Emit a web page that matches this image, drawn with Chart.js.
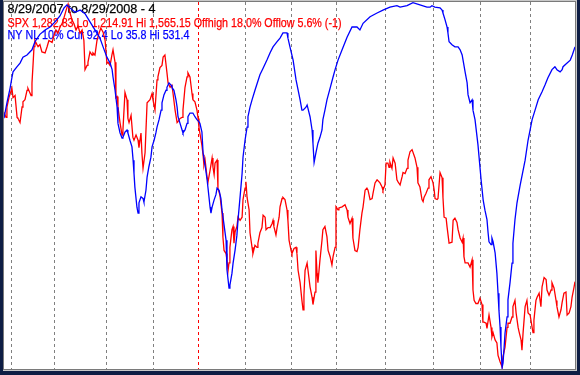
<!DOCTYPE html>
<html>
<head>
<meta charset="utf-8">
<script src="https://cdn.jsdelivr.net/npm/chart.js@4.4.0/dist/chart.umd.min.js"></script>
<style>
  html, body { margin: 0; padding: 0; background: #0e1d44; }
  #wrap { width: 580px; height: 375px; }
</style>
</head>
<body>
<div id="wrap"><canvas id="chart" width="580" height="375"></canvas></div>
<script>
// header text, one line each
var titleLines = [
  "8/29/2007 to 8/29/2008 - 4",
  "SPX 1,282.83 Lo 1,214.91 Hi 1,565.15 Offhigh 18.0% Offlow 5.6% (-1)",
  "NY NL 10% Cur 92.4 Lo 35.8 Hi 531.4"
];
var titleColors = ["#000000", "#ff0000", "#0000ff"];

// trading day index (0 = 8/29/2007) of first session of each month
var monthStarts = [3, 22, 45, 66, 86, 107, 127, 147, 169, 190, 211, 233];
var yearStart = 86;
var lastDay = 253;

// SPX close (day index, value)
var spxDay = [
  0, 0.9, 1.3, 2.2, 3.5, 4.0, 4.9, 5.8, 6.2, 7.1,
  8.0, 8.4, 9.3, 10.2, 10.6, 12.0, 12.4, 12.9, 13.3, 13.7,
  14.6, 15.1, 15.9, 16.8, 18.2, 19.1, 19.9, 21.3, 22.2, 23.0,
  23.9, 24.8, 25.7, 26.6, 27.5, 28.4, 29.2, 30.1, 31.0, 31.9,
  32.8, 33.7, 34.6, 35.4, 35.9, 36.8, 37.2, 38.1, 39.0, 39.4,
  40.3, 41.2, 42.1, 42.9, 43.9, 44.8, 45.6, 46.1, 47.0, 47.8,
  48.3, 49.2, 49.6, 50.1, 50.5, 51.4, 52.3, 52.7, 53.6, 54.5,
  54.9, 55.4, 56.3, 57.1, 57.6, 58.5, 59.4, 59.8, 60.7, 61.1,
  61.6, 62.5, 63.4, 63.8, 64.7, 65.6, 66.0, 66.9, 67.8, 68.2,
  69.1, 70.0, 70.5, 71.3, 72.2, 72.7, 73.6, 74.4, 74.9, 75.8,
  76.7, 77.1, 78.0, 78.9, 79.3, 80.2, 81.1, 81.5, 82.4, 83.3,
  83.7, 84.6, 85.5, 86.0, 86.4, 87.7, 88.2, 88.6, 89.1, 90.0,
  90.4, 91.3, 92.2, 92.6, 93.1, 93.5, 94.4, 94.8, 95.7, 96.6,
  97.0, 97.5, 98.4, 98.8, 99.3, 99.7, 100.1, 101.0, 101.5, 101.9,
  102.4, 103.2, 103.7, 104.6, 105.5, 105.9, 106.8, 107.2, 107.7, 108.6,
  109.0, 109.9, 110.3, 111.2, 112.1, 112.5, 113.4, 114.3, 114.8, 115.7,
  116.1, 117.0, 117.9, 118.8, 119.2, 119.6, 120.5, 121.0, 121.9, 122.3,
  123.2, 123.6, 124.5, 125.4, 125.8, 126.3, 127.2, 127.6, 128.5, 129.4,
  129.8, 130.3, 131.2, 132.0, 132.5, 132.9, 133.4, 134.3, 134.7, 135.6,
  136.5, 136.9, 137.8, 138.2, 138.7, 139.1, 140.0, 140.9, 141.3, 142.2,
  143.1, 143.6, 144.5, 145.3, 145.8, 146.7, 147.1, 148.0, 148.4, 149.8,
  151.1, 152.0, 152.4, 153.3, 154.2, 154.6, 155.5, 156.4, 156.9, 157.7,
  158.6, 159.1, 160.0, 160.8, 161.3, 162.2, 163.1, 163.5, 164.4, 165.3,
  165.7, 166.6, 167.5, 167.9, 168.8, 169.3, 170.1, 170.6, 171.0, 171.9,
  172.4, 173.3, 174.1, 174.6, 175.5, 176.4, 176.8, 177.7, 178.6, 179.0,
  179.9, 180.8, 181.2, 182.1, 183.0, 183.4, 184.3, 185.2, 185.7, 186.1,
  187.0, 187.9, 188.3, 189.2, 190.1, 190.6, 191.0, 191.9, 192.3, 193.2,
  194.1, 194.5, 195.0, 195.9, 196.3, 197.2, 197.6, 198.5, 199.0, 199.8,
  200.7, 201.2, 202.1, 203.0, 203.4, 203.8, 204.3, 205.6, 206.5, 207.4,
  207.8, 208.3, 209.1, 210.0, 210.9, 211.8, 212.2, 212.7, 213.6, 214.0,
  214.9, 215.8, 216.2, 216.7, 217.6, 218.4, 218.9, 219.8, 220.7, 221.1,
  222.0, 222.9, 223.3, 224.2, 225.1, 225.5, 226.4, 226.9, 227.8, 228.2,
  229.1, 229.5, 230.0, 230.9, 231.7, 232.2, 233.1, 234.0, 234.4, 234.8,
  235.7, 236.2, 237.1, 237.9, 238.4, 239.3, 240.2, 240.6, 241.5, 242.4,
  242.8, 243.7, 244.6, 245.0, 245.9, 246.8, 247.3, 248.1, 249.0, 249.5,
  250.4, 251.2, 251.7, 252.6, 253.0
];
var spxClose = [
  1460, 1455, 1465, 1474, 1483, 1474, 1476, 1455, 1454, 1450,
  1465, 1470, 1472, 1481, 1483, 1476, 1488, 1507, 1523, 1529,
  1525, 1523, 1525, 1518, 1517, 1523, 1529, 1527, 1534, 1539,
  1536, 1542, 1545, 1551, 1558, 1564, 1556, 1549, 1545, 1539,
  1543, 1536, 1539, 1529, 1501, 1505, 1508, 1518, 1515, 1517,
  1515, 1529, 1536, 1541, 1537, 1529, 1507, 1508, 1505, 1515,
  1520, 1508, 1474, 1475, 1465, 1450, 1438, 1443, 1479, 1472,
  1454, 1450, 1457, 1436, 1433, 1438, 1433, 1426, 1440, 1421,
  1406, 1421, 1469, 1469, 1472, 1478, 1472, 1462, 1491, 1494,
  1503, 1505, 1513, 1515, 1498, 1488, 1484, 1486, 1478, 1462,
  1450, 1451, 1454, 1455, 1462, 1484, 1494, 1498, 1494, 1478,
  1472, 1470, 1462, 1454, 1445, 1428, 1419, 1409, 1414, 1397,
  1393, 1404, 1416, 1407, 1400, 1411, 1414, 1387, 1380, 1363,
  1340, 1327, 1324, 1318, 1308, 1315, 1330, 1347, 1350, 1334,
  1345, 1350, 1359, 1356, 1359, 1376, 1387, 1393, 1378, 1366,
  1344, 1330, 1324, 1332, 1330, 1334, 1344, 1349, 1361, 1359,
  1347, 1349, 1349, 1353, 1356, 1350, 1342, 1349, 1359, 1369,
  1377, 1378, 1376, 1366, 1356, 1337, 1327, 1324, 1329, 1330,
  1324, 1308, 1296, 1279, 1270, 1284, 1308, 1315, 1308, 1292,
  1282, 1275, 1287, 1327, 1305, 1296, 1318, 1337, 1347, 1350,
  1340, 1327, 1321, 1313, 1321, 1330, 1369, 1366, 1368, 1369,
  1371, 1366, 1359, 1353, 1358, 1339, 1327, 1326, 1330, 1347,
  1363, 1369, 1385, 1387, 1385, 1376, 1377, 1382, 1392, 1395,
  1395, 1392, 1388, 1385, 1390, 1411, 1411, 1407, 1412, 1406,
  1416, 1411, 1395, 1393, 1390, 1398, 1402, 1401, 1406, 1414,
  1422, 1424, 1424, 1416, 1407, 1392, 1388, 1376, 1374, 1378,
  1382, 1387, 1395, 1398, 1392, 1385, 1377, 1376, 1377, 1402,
  1397, 1378, 1359, 1358, 1350, 1334, 1334, 1335, 1356, 1358,
  1354, 1347, 1339, 1335, 1339, 1321, 1315, 1315, 1311, 1318,
  1289, 1279, 1276, 1276, 1281, 1275, 1258, 1258, 1257, 1252,
  1265, 1253, 1244, 1248, 1241, 1238, 1226, 1220, 1215, 1225,
  1234, 1253, 1257, 1257, 1263, 1273, 1279, 1267, 1253, 1249,
  1241, 1231, 1248, 1273, 1279, 1267, 1265, 1253, 1248, 1260,
  1279, 1282, 1286, 1273, 1292, 1301, 1299, 1289, 1284, 1289,
  1296, 1291, 1279, 1273, 1263, 1270, 1277, 1286, 1287, 1265,
  1267, 1273, 1282, 1292, 1297
];

// NYSE new lows, 10 day average (day index, value)
var nlDay = [
  0, 1.3, 2.7, 3.5, 4.0, 5.8, 7.1, 8.4, 10.2, 12.4,
  13.7, 15.9, 18.2, 20.4, 22.6, 24.8, 26.6, 27.9, 29.2, 31.5,
  33.7, 35.9, 38.1, 40.3, 42.5, 43.9, 45.6, 47.0, 47.9, 48.3,
  49.2, 50.1, 50.5, 51.4, 52.3, 52.7, 53.6, 54.5, 54.9, 55.8,
  56.7, 57.2, 57.6, 58.0, 58.9, 59.4, 59.8, 60.7, 61.6, 62.0,
  62.9, 63.4, 64.2, 65.1, 65.6, 66.5, 67.3, 67.8, 68.7, 69.6,
  70.0, 70.9, 71.8, 72.2, 73.1, 74.0, 74.4, 75.3, 76.2, 76.7,
  77.1, 78.0, 78.9, 79.3, 80.2, 81.1, 81.5, 82.4, 83.7, 84.6,
  85.5, 86.4, 86.8, 87.7, 88.2, 89.1, 90.0, 90.4, 91.3, 91.7,
  92.2, 93.1, 93.9, 94.4, 95.3, 96.1, 96.6, 97.5, 98.4, 98.8,
  99.7, 100.1, 101.0, 101.5, 102.4, 103.2, 103.7, 104.6, 105.5, 105.9,
  106.8, 107.7, 108.1, 109.0, 109.9, 111.2, 113.4, 114.8, 116.5, 117.9,
  119.2, 121.0, 122.3, 123.6, 125.4, 125.8, 126.7, 128.1, 129.4, 131.2,
  132.0, 132.5, 133.8, 134.3, 135.6, 136.5, 136.9, 137.4, 138.2, 139.1,
  140.0, 140.9, 141.3, 142.2, 143.1, 144.5, 145.8, 146.7, 148.0, 149.8,
  152.0, 154.2, 156.4, 157.7, 159.1, 162.2, 165.3, 167.9, 171.0, 174.1,
  175.5, 178.6, 181.2, 184.3, 187.4, 188.8, 189.6, 190.9, 193.2, 194.1,
  194.5, 195.4, 196.3, 196.7, 197.2, 198.5, 199.8, 201.2, 202.1, 203.0,
  203.4, 204.3, 205.2, 205.6, 206.5, 207.4, 207.8, 208.7, 210.0, 211.4,
  212.3, 213.1, 214.0, 214.5, 214.9, 215.8, 216.2, 216.7, 217.6, 218.4,
  218.9, 219.3, 219.8, 220.2, 220.7, 221.1, 221.6, 222.0, 222.9, 223.3,
  224.2, 225.1, 225.5, 226.4, 227.3, 228.7, 230.9, 232.2, 234.0, 235.3,
  236.7, 238.4, 239.7, 241.0, 242.8, 244.1, 245.0, 246.4, 247.3, 247.7,
  249.5, 250.9, 251.8, 253.0
];
var nlValue = [
  192, 171, 151, 137, 129, 122, 117, 109, 106, 99,
  88, 78, 72, 68, 61, 53, 42, 38, 42, 48,
  45, 50, 61, 72, 83, 95, 109, 117, 126, 136,
  154, 177, 199, 212, 219, 218, 211, 208, 212, 222,
  231, 249, 267, 286, 313, 321, 307, 299, 301, 306,
  290, 272, 258, 245, 231, 222, 212, 204, 194, 181,
  171, 160, 154, 150, 144, 147, 150, 154, 167, 177,
  190, 199, 208, 212, 208, 199, 190, 185, 185, 190,
  194, 197, 199, 211, 239, 256, 276, 287, 313, 321,
  313, 303, 296, 287, 290, 301, 317, 337, 358, 398,
  423, 419, 403, 389, 371, 351, 330, 299, 267, 245,
  222, 204, 190, 177, 167, 154, 133, 124, 113, 103,
  95, 88, 83, 76, 76, 83, 95, 113, 140, 167,
  181, 181, 177, 174, 190, 208, 226, 252, 239, 226,
  218, 208, 194, 181, 167, 151, 136, 126, 113, 99,
  82, 68, 68, 72, 63, 54, 49, 45, 41, 39,
  41, 39, 35, 38, 41, 41, 39, 41, 42, 45,
  49, 58, 68, 76, 88, 92, 95, 95, 99, 106,
  113, 129, 144, 160, 171, 167, 181, 194, 228, 276,
  303, 317, 330, 348, 360, 364, 355, 360, 375, 403,
  430, 453, 476, 503, 531, 525, 503, 484, 462, 439,
  416, 389, 362, 330, 307, 283, 249, 222, 194, 181,
  167, 156, 147, 137, 126, 122, 126, 129, 126, 122,
  117, 113, 106, 95
];

function toPoints(xs, ys) {
  var out = [];
  for (var i = 0; i < xs.length; i++) {
    out.push({ x: xs[i], y: ys[i] });
  }
  return out;
}

// window frame, monthly dashed lines and the header text
var framePlugin = {
  id: "frame",
  beforeDraw: function(chart) {
    var ctx = chart.ctx;
    var a = chart.chartArea;
    ctx.save();
    ctx.fillStyle = "#0e1d44";
    ctx.fillRect(0, 0, chart.width, chart.height);
    // light top strip and outer bevel
    ctx.fillStyle = "#c8c8c8";
    ctx.fillRect(a.left - 1, 0, a.right - a.left + 3, a.bottom + 2);
    ctx.fillStyle = "#7a7a7a";
    ctx.fillRect(a.left - 1, a.top - 1, a.right - a.left + 2, a.bottom - a.top + 2);
    ctx.fillStyle = "#ffffff";
    ctx.fillRect(a.left, a.top, a.right - a.left, a.bottom - a.top);
    ctx.restore();
  },
  beforeDatasetsDraw: function(chart) {
    var ctx = chart.ctx;
    var a = chart.chartArea;
    var xs = chart.scales.x;
    ctx.save();
    ctx.lineWidth = 1;
    ctx.setLineDash([3, 3]);
    for (var i = 0; i < monthStarts.length; i++) {
      var px = Math.round(xs.getPixelForValue(monthStarts[i])) + 0.5;
      ctx.strokeStyle = monthStarts[i] === yearStart ? "#ff0000" : "#808080";
      ctx.beginPath();
      ctx.moveTo(px, a.top);
      ctx.lineTo(px, a.bottom);
      ctx.stroke();
    }
    ctx.setLineDash([]);

    ctx.font = "12.5px 'Liberation Sans', Arial, sans-serif";
    ctx.textBaseline = "alphabetic";
    var baselines = [13, 26.5, 39];
    var widths = [148, 334, 182];
    for (var j = 0; j < titleLines.length; j++) {
      var w = ctx.measureText(titleLines[j]).width;
      ctx.save();
      ctx.translate(a.left + 3.5, baselines[j]);
      ctx.scale(widths[j] / w, 1);
      ctx.fillStyle = titleColors[j];
      ctx.strokeStyle = titleColors[j];
      ctx.lineWidth = 0.25;
      ctx.fillText(titleLines[j], 0, 0);
      ctx.strokeText(titleLines[j], 0, 0);
      ctx.restore();
    }
    ctx.restore();
  }
};

new Chart(document.getElementById("chart"), {
  type: "line",
  data: {
    datasets: [
      {
        label: "NY NL 10%",
        data: toPoints(nlDay, nlValue),
        yAxisID: "yNl",
        borderColor: "#0000ff",
        borderWidth: 1.3,
        pointRadius: 0,
        tension: 0
      },
      {
        label: "SPX",
        data: toPoints(spxDay, spxClose),
        yAxisID: "ySpx",
        borderColor: "#ff0000",
        borderWidth: 1.3,
        pointRadius: 0,
        tension: 0
      }
    ]
  },
  options: {
    responsive: false,
    animation: false,
    layout: { padding: { left: 4, top: 2, right: 5, bottom: 6 } },
    scales: {
      x: { type: "linear", min: 0, max: lastDay, display: false },
      ySpx: { type: "linear", min: 1213, max: 1566, display: false },
      yNl: { type: "linear", min: 34, max: 533, reverse: true, display: false }
    },
    plugins: {
      legend: { display: false },
      tooltip: { enabled: false }
    }
  },
  plugins: [framePlugin]
});
</script>
</body>
</html>
